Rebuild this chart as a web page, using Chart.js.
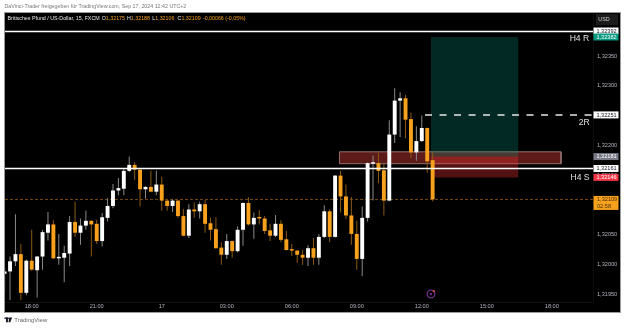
<!DOCTYPE html>
<html>
<head>
<meta charset="utf-8">
<style>html,body{margin:0;padding:0;background:#fff;overflow:hidden}canvas{display:block}</style>
<script src="https://cdn.jsdelivr.net/npm/chart.js@4/dist/chart.umd.min.js"></script>
</head>
<body>
<canvas id="c" width="625" height="328"></canvas>
<script>
// GBP/USD 15 minute candles, oldest first
const opens = [1.31984,1.31988,1.32005,1.32017,1.31952,1.32006,1.31990,1.32013,1.32053,1.32067,
1.32010,1.32011,1.32018,1.32071,1.32053,1.32065,1.32073,1.32068,1.32039,1.32078,
1.32098,1.32124,1.32127,1.32157,1.32167,1.32159,1.32126,1.32130,1.32122,1.32134,
1.32107,1.32098,1.32107,1.32081,1.32048,1.32092,1.32089,1.32101,1.32069,1.32059,
1.32028,1.32016,1.32039,1.32022,1.32058,1.32103,1.32067,1.32078,1.32077,1.32057,
1.32048,1.32068,1.32042,1.32025,1.32023,1.32016,1.32011,1.32027,1.32011,1.32046,
1.32089,1.32046,1.32149,1.32114,1.32082,1.32051,1.32009,1.32078,1.32169,1.32170,
1.32158,1.32107,1.32218,1.32275,1.32279,1.32244,1.32188,1.32207,1.32229,1.32175];
const closes = [1.31988,1.32005,1.32017,1.31952,1.32006,1.31991,1.32013,1.32054,1.32067,1.32010,
1.32011,1.32019,1.32071,1.32053,1.32065,1.32073,1.32067,1.32039,1.32079,1.32098,
1.32124,1.32128,1.32157,1.32167,1.32159,1.32126,1.32130,1.32122,1.32134,1.32107,
1.32098,1.32107,1.32081,1.32048,1.32092,1.32089,1.32101,1.32068,1.32058,1.32027,
1.32016,1.32039,1.32022,1.32058,1.32103,1.32067,1.32078,1.32077,1.32056,1.32048,
1.32068,1.32041,1.32024,1.32023,1.32016,1.32011,1.32027,1.32011,1.32046,1.32089,
1.32046,1.32149,1.32114,1.32082,1.32051,1.32009,1.32078,1.32170,1.32170,1.32157,
1.32107,1.32218,1.32275,1.32279,1.32243,1.32188,1.32207,1.32229,1.32173,1.32109];
const highs = [1.31996,1.32013,1.32084,1.32034,1.32008,1.32058,1.32014,1.32058,1.32088,1.32074,
1.32051,1.32031,1.32081,1.32105,1.32077,1.32090,1.32074,1.32075,1.32086,1.32111,
1.32135,1.32145,1.32161,1.32181,1.32172,1.32160,1.32131,1.32157,1.32157,1.32147,
1.32108,1.32109,1.32108,1.32093,1.32101,1.32104,1.32105,1.32108,1.32078,1.32079,
1.32037,1.32051,1.32040,1.32064,1.32104,1.32113,1.32087,1.32091,1.32081,1.32068,
1.32083,1.32074,1.32056,1.32034,1.32024,1.32024,1.32032,1.32044,1.32051,1.32099,
1.32093,1.32150,1.32157,1.32134,1.32113,1.32073,1.32097,1.32171,1.32183,1.32187,
1.32169,1.32242,1.32296,1.32289,1.32285,1.32255,1.32232,1.32250,1.32230,1.32188];
const lows = [1.31951,1.31940,1.31997,1.31940,1.31948,1.31989,1.31944,1.31991,1.32040,1.32009,
1.31999,1.31970,1.31997,1.32046,1.32033,1.32058,1.32013,1.32034,1.32030,1.32072,
1.32094,1.32116,1.32116,1.32155,1.32142,1.32097,1.32110,1.32121,1.32116,1.32090,
1.32090,1.32088,1.32078,1.32047,1.32044,1.32078,1.32077,1.32053,1.32040,1.32026,
1.31999,1.32009,1.32011,1.32020,1.32031,1.32065,1.32043,1.32067,1.32051,1.32039,
1.32046,1.32037,1.32023,1.32014,1.32002,1.31999,1.31997,1.31999,1.31999,1.32044,
1.32037,1.32045,1.32087,1.32076,1.32033,1.31991,1.31980,1.32072,1.32107,1.32136,
1.32082,1.32106,1.32204,1.32214,1.32212,1.32178,1.32174,1.32206,1.32154,1.32106];

// Time axis: slots count 15 minute bars, one tick label every 12 slots
const firstSlot = 7;
const xTickSlots = [12,24,36,48,60,72,84,96,108];
const xTickLabels = ['18:00','21:00','17','03:00','06:00','09:00','12:00','15:00','18:00'];
const yTickValues = [1.3195,1.32,1.3205,1.321,1.3215,1.322,1.3225,1.323,1.3235];

// Drawing objects on the chart
const resistance = 1.32391, support = 1.32161, target2R = 1.32251, lastPrice = 1.32109;
const entry = 1.32181, takeProfit = 1.32382, stopLoss = 1.32146;
const bandTop = 1.32189, bandBottom = 1.32169;
const slotMin = 7.07, slotMax = 115.6;
const positionSlots = [85.7, 101.8], bandSlots = [68.8, 109.7], dashStartSlot = 84.6;

// Price tags on the right axis
const tagPrices = [1.32392,1.32382,1.32251,1.32181,1.32161,1.32146];
const tagTexts  = ['1,32392','1,32382','1,32251','1,32181','1,32161','1,32146'];
const tagFills  = ['#ffffff','#089981','#ffffff','#787b86','#ffffff','#f23645'];
const tagInks   = ['#131722','#ffffff','#131722','#ffffff','#131722','#ffffff'];

const headerTitle = 'DaVinci-Trader freigegeben für TradingView.com, Sep 17, 2024 12:42 UTC+2';
const symbolText = 'Britisches Pfund / US-Dollar, 15, FXCM';
const ohlcKeys = ['O','H','L','C',''];
const ohlcVals = ['1,32175','1,32188','1,32106','1,32109','-0,00066 (-0,05%)'];

const UP = '#ffffff', DOWN = '#f7a11d', UP_WICK = '#8a8a8a', DOWN_WICK = '#8a5a14';
const isUp = opens.map((o, i) => closes[i] >= o);
const slot = i => i + firstSlot;
const box = (x0, x1, top, bottom) => [
  {x:x0,y:top},{x:x1,y:top},{x:x1,y:bottom},{x:x0,y:bottom},{x:x0,y:top}
];
const shape = (data, fillColor, stroke, order) => ({
  type:'line', data, fill:'shape', backgroundColor:fillColor,
  borderColor:stroke, borderWidth:stroke === 'transparent' ? 0 : 1, pointRadius:0, tension:0, order
});
const hline = (x0, x1, y, color, width, dash, order) => ({
  type:'line', data:[{x:x0,y},{x:x1,y}], borderColor:color, borderWidth:width,
  borderDash:dash, pointRadius:0, fill:false, order
});

const FONT = '"Liberation Sans", Arial, sans-serif';

const paint = {
  id:'paint',
  beforeDraw(chart) {
    const c = chart.ctx;
    c.save();
    c.fillStyle = '#ffffff';
    c.fillRect(0, 0, 625, 328);
    c.fillStyle = '#000000';
    c.fillRect(4, 12, 616, 300);
    c.strokeStyle = '#9a9a9a';
    c.lineWidth = 1;
    c.strokeRect(4.5, 12.5, 616, 300);
    c.restore();
  },
  afterDraw(chart) {
    const c = chart.ctx, y = chart.scales.y, x = chart.scales.x;
    c.save();
    c.textBaseline = 'middle';

    // Top caption and symbol legend
    c.textAlign = 'left';
    c.font = '5.3px ' + FONT;
    c.fillStyle = '#777777';
    c.fillText(headerTitle, 4.5, 6.5);
    c.fillStyle = '#e8e8e8';
    c.fillText(symbolText, 7.5, 18.5);
    let px = 101.7;
    ohlcKeys.forEach((k, i) => {
      c.fillStyle = '#e8e8e8';
      c.fillText(k, px, 18.5);
      c.fillStyle = '#f7a11d';
      c.fillText(ohlcVals[i], px + c.measureText(k).width, 18.5);
      px += 25.3;
    });

    // Level names next to the lines
    c.textAlign = 'center';
    c.font = '8.6px ' + FONT;
    c.fillStyle = '#e0e0e0';
    c.fillText('H4 R', x.getPixelForValue(113.1), y.getPixelForValue(1.32379));
    c.fillText('2R', x.getPixelForValue(114), y.getPixelForValue(1.32238));
    c.fillText('H4 S', x.getPixelForValue(113.2), y.getPixelForValue(1.32146));

    // Currency box
    c.fillStyle = '#1b1b1b';
    c.fillRect(596, 14, 22, 11);
    c.font = '5.4px ' + FONT;
    c.fillStyle = '#cfcfcf';
    c.fillText('USD', 604, 19.5);

    // Price tags
    tagPrices.forEach((p, i) => {
      const py = y.getPixelForValue(p);
      c.fillStyle = tagFills[i];
      c.fillRect(593.5, py - 3.5, 25, 7);
      c.fillStyle = tagInks[i];
      c.font = '5.6px ' + FONT;
      c.fillText(tagTexts[i], 606.5, py + 0.2);
    });
    const lp = y.getPixelForValue(lastPrice);
    c.fillStyle = '#f7a11d';
    c.fillRect(593.5, lp - 3.5, 25, 14);
    c.fillStyle = '#4a2f05';
    c.textAlign = 'left';
    c.fillText('1,32109', 597, lp + 0.2);
    c.fillText('02:58', 597, lp + 7);

    // Alert marker below the last bar
    const ax = x.getPixelForValue(85.7), ay = 294;
    c.strokeStyle = '#6d2f8c';
    c.lineWidth = 1.3;
    c.beginPath();
    c.arc(ax, ay, 3.8, 0, Math.PI * 2);
    c.stroke();
    c.fillStyle = '#6d2f8c';
    c.beginPath();
    c.arc(ax, ay, 1.2, 0, Math.PI * 2);
    c.fill();
    c.fillStyle = '#e0503a';
    c.beginPath();
    c.arc(ax + 2.8, ay - 2.8, 1.1, 0, Math.PI * 2);
    c.fill();

    // Footer wordmark
    c.fillStyle = '#131722';
    c.fillRect(4.5, 317.5, 3.4, 1.4);
    c.fillRect(6, 317.5, 1.9, 4.8);
    c.beginPath();
    c.arc(9, 318.4, 0.9, 0, Math.PI * 2);
    c.fill();
    c.beginPath();
    c.moveTo(9.6, 317.5);
    c.lineTo(12.2, 317.5);
    c.lineTo(10.2, 322.3);
    c.lineTo(8.4, 322.3);
    c.closePath();
    c.fill();
    c.textAlign = 'left';
    c.font = '6px ' + FONT;
    c.fillStyle = '#666666';
    c.fillText('TradingView', 14.2, 320);
    c.restore();
  }
};

new Chart(document.getElementById('c'), {
  type:'bar',
  data:{
    datasets:[
      shape(box(bandSlots[0], bandSlots[1], bandTop, bandBottom), '#5c1a18', '#94706e', 6),
      shape(box(positionSlots[0], positionSlots[1], takeProfit, entry), 'rgba(8,153,129,0.27)', 'transparent', 5),
      shape(box(positionSlots[0], positionSlots[1], entry, stopLoss), 'rgba(242,54,54,0.34)', 'transparent', 5),
      {
        data:lows.map((l, i) => ({x:slot(i), y:[l, highs[i]]})),
        backgroundColor:isUp.map(u => u ? UP_WICK : DOWN_WICK),
        maxBarThickness:1, grouped:false, order:3
      },
      {
        data:opens.map((o, i) => ({x:slot(i), y:[o, closes[i]]})),
        backgroundColor:isUp.map(u => u ? UP : DOWN),
        maxBarThickness:4, minBarLength:1.5, grouped:false, order:2
      },
      hline(slotMin, slotMax, lastPrice, '#7a4a10', 1, [3,2], 4),
      hline(slotMin, slotMax, resistance, '#ffffff', 1.5, [], 1),
      hline(slotMin, slotMax, support, '#ffffff', 1.5, [], 1),
      hline(dashStartSlot, slotMax, target2R, '#e8e8e8', 1.5, [7,7.5], 1)
    ]
  },
  options:{
    responsive:false,
    animation:false,
    events:[],
    layout:{padding:{left:5,top:13,right:5,bottom:16}},
    plugins:{legend:{display:false},title:{display:false},tooltip:{enabled:false}},
    scales:{
      x:{
        type:'linear', offset:false, min:slotMin, max:slotMax,
        afterBuildTicks:s => { s.ticks = xTickSlots.map(v => ({value:v})); },
        afterFit:s => { s.height = 10; },
        grid:{display:false, drawTicks:false},
        border:{display:true,color:'#0e0e0e'},
        ticks:{
          autoSkip:false, maxRotation:0, padding:1,
          font:{family:FONT,size:5.6}, color:'#b2b5be',
          callback:v => xTickLabels[xTickSlots.indexOf(v)]
        }
      },
      y:{
        type:'linear', position:'right', min:1.319366, max:1.324223,
        afterBuildTicks:s => { s.ticks = yTickValues.map(v => ({value:v})); },
        afterFit:s => { s.width = 27; },
        grid:{display:false, drawTicks:false},
        border:{display:true,color:'#0e0e0e'},
        ticks:{
          autoSkip:false, padding:4,
          font:{family:FONT,size:5.6}, color:'#b2b5be',
          callback:v => v.toFixed(5).replace('.', ',')
        }
      }
    }
  },
  plugins:[paint]
});
</script>
</body>
</html>
